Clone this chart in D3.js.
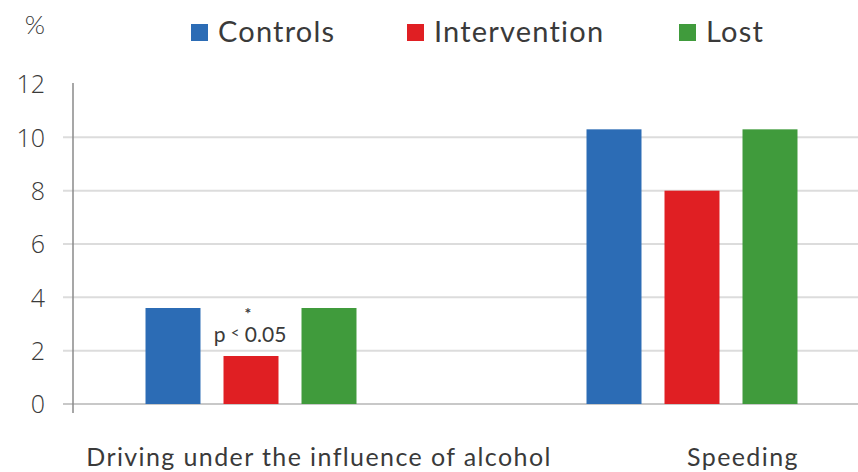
<!DOCTYPE html>
<html>
<head>
<meta charset="utf-8">
<script src="https://cdn.jsdelivr.net/npm/d3@7"></script>
<style>
  body { margin: 0; background: #fff; }
  svg text { font-family: Lato, 'Open Sans', sans-serif; fill: #3a3a3a; }
</style>
</head>
<body>
<div id="viz"></div>
<script>
let categories = ['Driving under the influence of alcohol', 'Speeding'],
    series = ['Controls', 'Intervention', 'Lost'],
    controls = [3.6, 10.3],
    intervention = [1.8, 8.0],
    lost = [3.6, 10.3],
    yTicks = [0, 2, 4, 6, 8, 10, 12],
    colors = ['#2c6cb5', '#e01f23', '#409b3c'];

let width = 858,
    height = 472,
    values = [controls, intervention, lost];

let svg = d3.select('#viz').append('svg')
  .attr('width', width)
  .attr('height', height)

let yScale = d3.scaleLinear()
  .domain([0, 12])
  .range([404, 84])

let xScale = d3.scaleBand()
  .domain(categories)
  .range([30.5, 912.5])

let xInner = d3.scaleBand()
  .domain(series)
  .range([0, 234])
  .paddingInner(0.295)
  .paddingOuter(0.1475)

// gridlines
svg.append('g')
  .selectAll('line').data(yTicks.filter(function(d) { return d < 12; }))
  .enter().append('line')
  .attr('x1', 63)
  .attr('x2', width)
  .attr('y1', function(d) { return yScale(d); })
  .attr('y2', function(d) { return yScale(d); })
  .attr('stroke', function(d) { return d === 0 ? '#c8c8c8' : '#dcdcdc'; })
  .attr('stroke-width', 2)

// y axis
let yAxis = d3.axisLeft(yScale).tickValues(yTicks).tickSize(0).tickPadding(28)
let yGuide = svg.append('g')
  .attr('transform', 'translate(73,0)')
  .call(yAxis)
yGuide.select('.domain').remove()
yGuide.selectAll('text')
  .style('font-size', '25px')
  .style('font-family', "'Open Sans', sans-serif")
  .style('font-weight', 300)
  .attr('fill', '#444')
  .attr('dy', '0.35em')
yGuide.append('line')
  .attr('y1', yScale(12) - 1)
  .attr('y2', yScale(0) + 9)
  .attr('stroke', '#8a8a8a')
  .attr('stroke-width', 1.5)

svg.append('text')
  .attr('x', 35)
  .attr('y', 34)
  .attr('text-anchor', 'middle')
  .style('font-size', '26px')
  .style('font-weight', 300)
  .text('%')

// bars
series.forEach(function(s, si) {
  svg.append('g').selectAll('rect').data(values[si])
    .enter().append('rect')
    .attr('x', function(d, i) { return xScale(categories[i]) + xScale.bandwidth() / 2 - 117 + xInner(s); })
    .attr('width', xInner.bandwidth())
    .attr('y', function(d) { return yScale(d); })
    .attr('height', function(d) { return yScale(0) - yScale(d); })
    .attr('fill', colors[si])
})

// category labels (offset to the right of group centres as in the original)
let labelShift = [68, 51]
svg.append('g').selectAll('text').data(categories)
  .enter().append('text')
  .attr('x', function(d, i) { return xScale(d) + xScale.bandwidth() / 2 + labelShift[i]; })
  .attr('y', 466)
  .attr('text-anchor', 'middle')
  .style('font-size', '25px')
  .style('letter-spacing', '1.4px')
  .text(function(d) { return d; })

// significance note
let redX = xScale(categories[0]) + xScale.bandwidth() / 2 - 117 + xInner('Intervention') + xInner.bandwidth() / 2
let note = svg.append('text')
  .attr('x', redX - 1)
  .attr('y', yScale(intervention[0]) - 14)
  .attr('text-anchor', 'middle')
  .style('font-size', '21px')
note.append('tspan').text('p ')
note.append('tspan').attr('dy', -4).style('font-size', '15px').text('<')
note.append('tspan').attr('dy', 4).text(' 0.05')
svg.append('text')
  .attr('x', redX - 3)
  .attr('y', yScale(intervention[0]) - 37)
  .attr('text-anchor', 'middle')
  .style('font-size', '16px')
  .style('font-weight', 'bold')
  .text('*')

// legend
let legendX = [191, 407, 679]
let legend = svg.append('g').selectAll('g').data(series)
  .enter().append('g')
  .attr('transform', function(d, i) { return 'translate(' + legendX[i] + ',24)'; })
legend.append('rect')
  .attr('width', 17)
  .attr('height', 17)
  .attr('fill', function(d, i) { return colors[i]; })
legend.append('text')
  .attr('x', 27)
  .attr('y', 18)
  .style('font-size', '29px')
  .style('letter-spacing', '1.2px')
  .attr('fill', '#222')
  .text(function(d) { return d; })
</script>
</body>
</html>
